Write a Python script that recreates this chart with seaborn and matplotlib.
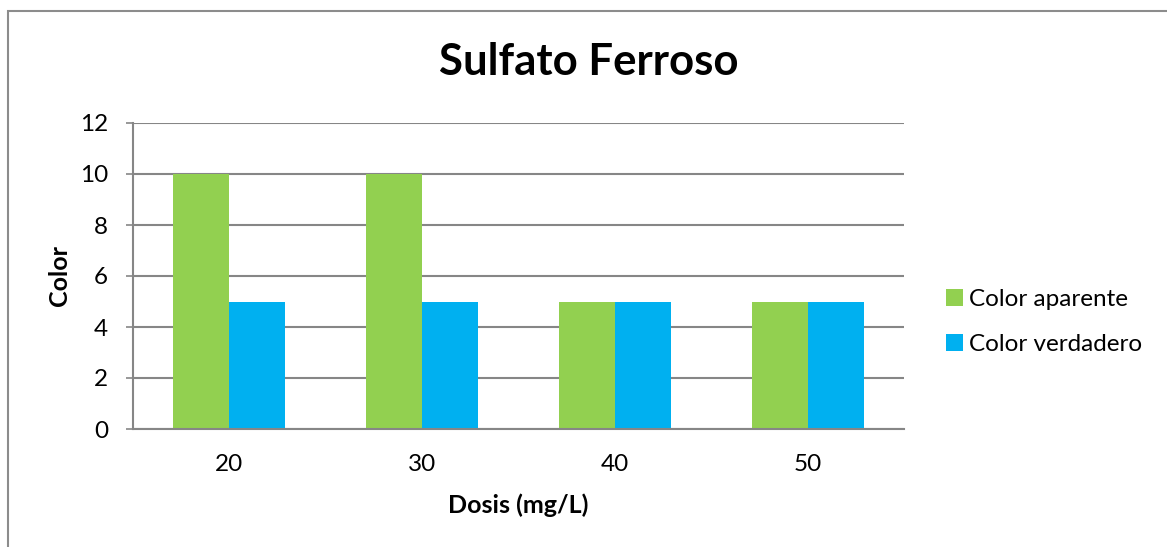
import matplotlib
matplotlib.use("Agg")
import matplotlib.pyplot as plt
from matplotlib.patches import Rectangle
import seaborn as sns
import pandas as pd

# Chart data
dosis = ["20", "30", "40", "50"]
color_aparente = [10, 10, 5, 5]
color_verdadero = [5, 5, 5, 5]
series_names = ["Color aparente", "Color verdadero"]
y_ticks = [0, 2, 4, 6, 8, 10, 12]

df = pd.DataFrame({
    "Dosis": dosis * 2,
    "Color": color_aparente + color_verdadero,
    "Serie": [series_names[0]] * len(dosis) + [series_names[1]] * len(dosis),
})

sns.set_style("white")
plt.rcParams["font.family"] = ["Lato", "DejaVu Sans"]
plt.rcParams["text.color"] = "black"
plt.rcParams["axes.labelcolor"] = "black"

GREEN = "#92D050"
BLUE = "#00B0F0"
GRID = "#868686"

fig = plt.figure(figsize=(11.67, 5.47), dpi=100)
W, H = 1167, 547

# chart-area border
fig.patches.append(Rectangle((8 / W, -0.05), 1.2, 1 - 11 / H + 0.05,
                             transform=fig.transFigure, fill=False,
                             edgecolor="#8C8C8C", linewidth=1.5))

ax = fig.add_axes([133 / W, (H - 429) / H, (904 - 133) / W, (429 - 123) / H])
sns.barplot(data=df, x="Dosis", y="Color", hue="Serie", order=dosis,
            hue_order=series_names, palette=[GREEN, BLUE], width=0.58,
            saturation=1, linewidth=0, ax=ax, legend=True)

ax.set_ylim(0, 12)
ax.set_yticks(y_ticks)
ax.set_xlim(-0.5, len(dosis) - 0.5)
ax.yaxis.grid(True, color=GRID, linewidth=1.5)
ax.set_axisbelow(True)
for side in ["top", "right"]:
    ax.spines[side].set_visible(False)
for side in ["left", "bottom"]:
    ax.spines[side].set_color(GRID)
    ax.spines[side].set_linewidth(1.5)

ax.tick_params(axis="y", length=5, width=1.2, color=GRID, pad=13,
               labelsize=17.5, labelcolor="black", left=True)
ax.tick_params(axis="x", length=0, pad=18, labelsize=17.5, labelcolor="black")

ax.set_xlabel("Dosis (mg/L)", fontsize=18, fontweight="bold", labelpad=13)
ax.set_ylabel("Color", fontsize=18, fontweight="bold", labelpad=6)

fig.text(589 / W, 1 - 62 / H, "Sulfato Ferroso", ha="center", va="center",
         fontsize=31.5, fontweight="bold")

handles, labels = ax.get_legend_handles_labels()
ax.legend(handles, labels, loc="center left", bbox_to_anchor=(924 / W, 1 - 322 / H),
          bbox_transform=fig.transFigure, frameon=False, fontsize=17.5,
          handlelength=0.7, handleheight=0.7, handletextpad=0.25,
          labelspacing=1.0)

fig.savefig("out.png", dpi=100)
